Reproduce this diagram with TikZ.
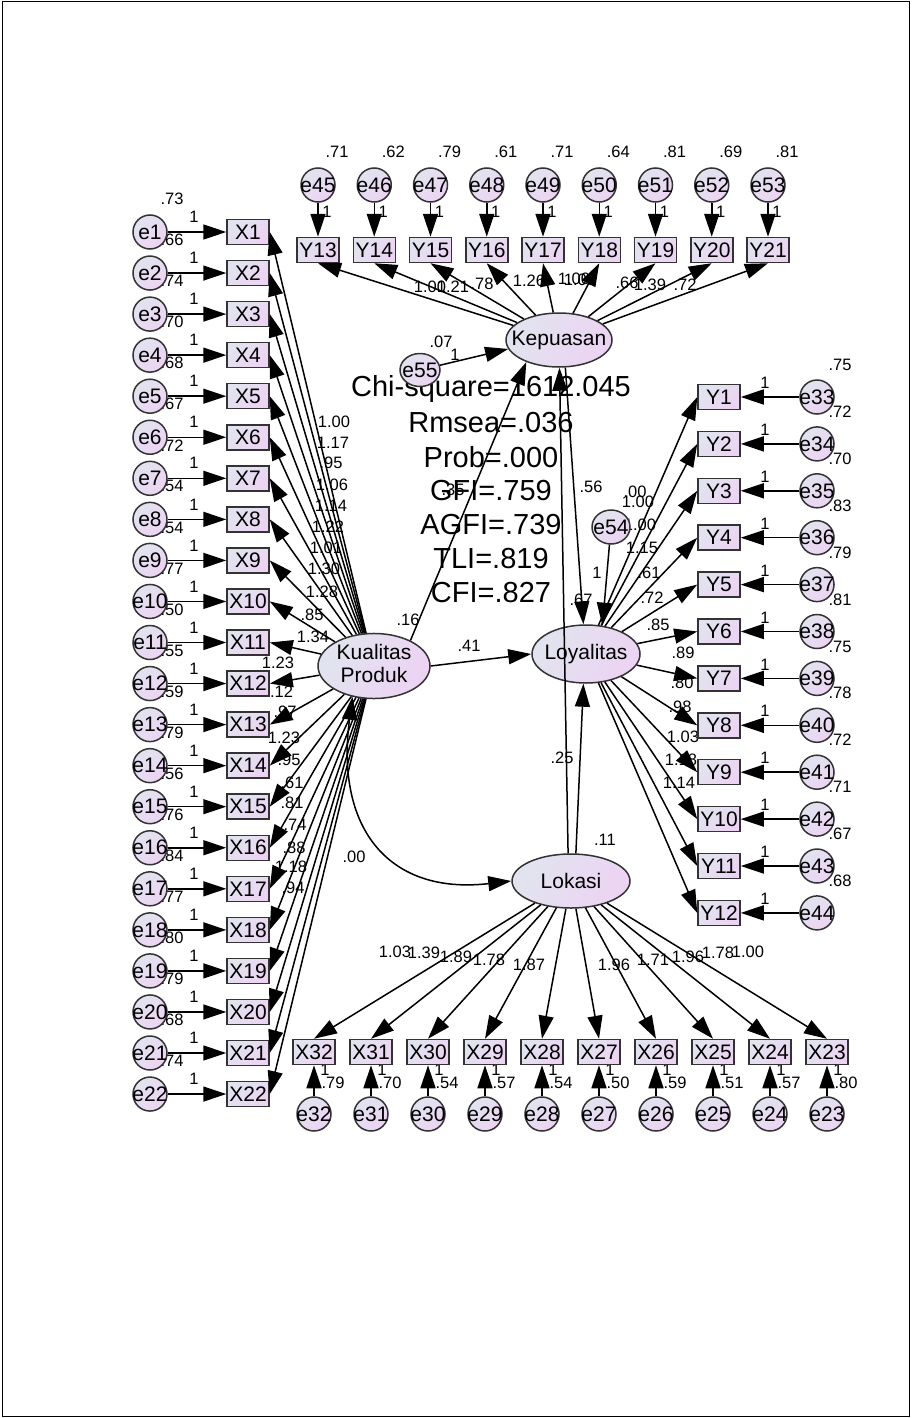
\documentclass[tikz,border=0pt]{standalone}
\usepackage{fontspec}
\setmainfont{Liberation Sans}
\usetikzlibrary{positioning, arrows.meta, shapes.geometric, backgrounds}

\definecolor{fillgray}{HTML}{E1E4EF}
\definecolor{fillpink}{HTML}{EDD3F3}
\newcommand{\ctext}[1]{\makebox[0pt]{#1}}

\begin{document}
\begin{tikzpicture}[
        x=1pt, y=-1pt,
        >={Triangle[length=23pt, width=15pt]},
        font=\fontsize{21}{23}\selectfont,
        obsbox/.style={rectangle, draw=black!80, line width=1.5pt, top color=fillgray, bottom color=fillpink, shading angle=45, minimum width=42pt, minimum height=25pt, inner sep=0pt},
        errcirc/.style={circle, draw=black!80, line width=1.5pt, top color=fillgray, bottom color=fillpink, shading angle=45, minimum size=34pt, inner sep=0pt},
        errell/.style={errcirc, ellipse, minimum width=40pt, minimum height=33pt},
        latent/.style={ellipse, draw=black!80, line width=1.5pt, top color=fillgray, bottom color=fillpink, shading angle=60, inner sep=0pt},
        arrow/.style={->, line width=1.5pt},
        coef/.style={font=\fontsize{16.5}{16.5}\selectfont, inner sep=0pt},
        fitstat/.style={font=\fontsize{29}{29}\selectfont, inner sep=0pt}
    ]
    \useasboundingbox (0,0) rectangle (911,1418);

    % Latent variables
    \node[latent, minimum width=106pt, minimum height=54pt] (kep) at (559,340) {\ctext{Kepuasan}};
    \node[latent, minimum width=108pt, minimum height=58pt] (lo) at (586,654) {\ctext{Loyalitas}};
    \node[latent, minimum width=118pt, minimum height=54pt] (lok) at (571,881) {\ctext{Lokasi}};
    \node[latent, minimum width=112pt, minimum height=60pt] (kp) at (374,666) {\ctext{\begin{tabular}{@{}c@{}}Kualitas\\Produk\end{tabular}}};

    \node[errell] (e55) at (420,370) {\ctext{e55}};
    \node[errell, minimum width=38pt, minimum height=34pt] (e54) at (611,527) {\ctext{e54}};

    % Kualitas Produk indicators
    \foreach \i [evaluate=\i as \yy using 232+(\i-1)*41.05] in {1,...,22} {
        \node[obsbox] (x\i) at (248,\yy) {X\i};
        \node[errcirc] (e\i) at (150,\yy) {\ctext{e\i}};
        \draw[arrow] (e\i) -- (x\i.west);
        \draw[arrow] (kp) -- (x\i.east);
    }

    % Loyalitas indicators
    \foreach \i [evaluate=\i as \yy using 397+(\i-1)*46.9, evaluate=\i as \ee using int(32+\i)] in {1,...,12} {
        \node[obsbox] (y\i) at (719,\yy) {Y\i};
        \node[errcirc] (e\ee) at (817,\yy) {\ctext{e\ee}};
        \draw[arrow] (e\ee) -- (y\i.east);
        \draw[arrow] (lo) -- (y\i.west);
    }

    % Kepuasan indicators
    \foreach \i [evaluate=\i as \xx using 318+(\i-13)*56.25, evaluate=\i as \ee using int(32+\i)] in {13,...,21} {
        \node[obsbox] (y\i) at (\xx,250) {Y\i};
        \node[errcirc] (e\ee) at (\xx,185) {\ctext{e\ee}};
        \draw[arrow] (e\ee) -- (y\i.north);
        \draw[arrow] (kep) -- (y\i.south);
    }

    % Lokasi indicators
    \foreach \i [evaluate=\i as \xx using 314+(32-\i)*57] in {23,...,32} {
        \node[obsbox] (x\i) at (\xx,1052) {X\i};
        \node[errcirc] (e\i) at (\xx,1114) {\ctext{e\i}};
        \draw[arrow] (e\i) -- (x\i.south);
        \draw[arrow] (lok) -- (x\i.north);
    }

    % Structural paths
    \draw[arrow] (kp.35) -- (kep.214);
    \draw[arrow] (kp.east) -- (lo.west);
    \draw[arrow] (e55) -- (kep.190);
    \draw[arrow] (e54) -- (lo.60);
    \draw[arrow] (kep.283) -- (lo.95);
    \draw[arrow] (lok.80) -- (lo.265);
    \draw[arrow] (lok.96) -- (kep.271);
    \draw[<->, line width=1.5pt] (kp.235) .. controls (335,830) and (390,895) .. (lok.west);

    \begin{scope}[on background layer]
        \draw[line width=1pt] (2,2) rectangle (909,1416);

        % Fit statistics
        \foreach \t [count=\n, evaluate=\n as \yy using 389+(\n-1)*34] in {Chi-square=1612.045, Rmsea=.036, Prob=.000, GFI=.759, AGFI=.739, TLI=.819, CFI=.827}
            \node[fitstat] (fit\n) at (491,\yy) {\t};

        % Variances and fixed weights
        \foreach \i/\v [evaluate=\i as \yy using 232+(\i-1)*41.05] in {1/.73, 2/.66, 3/.74, 4/.70, 5/.68, 6/.67, 7/.72, 8/.54, 9/.54, 10/.77, 11/.50, 12/.55, 13/.59, 14/.79, 15/.56, 16/.76, 17/.84, 18/.77, 19/.80, 20/.79, 21/.68, 22/.74} {
            \node[coef] (ve\i) at (172,\yy-33) {\v};
            \node[coef] (oe\i) at (194,\yy-15) {1};
        }
        \foreach \i/\v [evaluate=\i as \yy using 397+(\i-33)*46.9] in {33/.75, 34/.72, 35/.70, 36/.83, 37/.79, 38/.81, 39/.75, 40/.78, 41/.72, 42/.71, 43/.67, 44/.68} {
            \node[coef] (ve\i) at (840,\yy-32) {\v};
            \node[coef] (oe\i) at (765,\yy-14) {1};
        }
        \foreach \i/\v [evaluate=\i as \xx using 318+(\i-45)*56.25] in {45/.71, 46/.62, 47/.79, 48/.61, 49/.71, 50/.64, 51/.81, 52/.69, 53/.81} {
            \node[coef] (ve\i) at (\xx+19,152) {\v};
            \node[coef] (oe\i) at (\xx+9,212) {1};
        }
        \foreach \i/\v [evaluate=\i as \xx using 314+(32-\i)*57] in {23/.80, 24/.57, 25/.51, 26/.59, 27/.50, 28/.54, 29/.57, 30/.54, 31/.70, 32/.79} {
            \node[coef] (ve\i) at (\xx+19,1083) {\v};
            \node[coef] (oe\i) at (\xx+11,1070) {1};
        }

        % Loadings
        \foreach \v/\px/\py [count=\n] in {1.00/334/422, 1.17/333/443, .95/331/463, 1.06/332/485, 1.14/331/506, 1.22/328/527, 1.01/326/548, 1.30/324/569, 1.28/322/592, .85/312/615, 1.34/313/637, 1.23/278/663, 1.12/277/692, .97/285/712, 1.23/284/738, .95/289/760, .61/292/783, .81/292/803, .74/295/825, .88/294/848, 1.18/291/867, .94/293/888}
            \node[coef] (lkp\n) at (\px,\py) {\v};
        \foreach \v/\px/\py [count=\n] in {1.00/430/287, 1.21/453/287, .78/482/284, 1.26/529/281, 1.00/574/279, 1.08/580/280, .66/627/283, 1.39/650/285, .72/685/285}
            \node[coef] (lkep\n) at (\px,\py) {\v};
        \foreach \v/\px/\py [count=\n] in {1.00/638/502, 1.00/640/525, 1.15/642/548, .61/649/573, .72/652/598, .85/658/625, .89/683/653, .80/682/683, .98/680/707, 1.03/683/737, 1.18/681/760, 1.14/679/783}
            \node[coef] (llo\n) at (\px,\py) {\v};
        \foreach \v/\px/\py [count=\n] in {1.03/395/952, 1.39/424/953, 1.89/456/957, 1.78/489/960, 1.87/529/965, 1.96/614/965, 1.71/653/960, 1.96/688/957, 1.78/718/953, 1.00/748/952}
            \node[coef] (llok\n) at (\px,\py) {\v};

        % Structural estimates
        \node[coef] (v55) at (441,342) {.07};
        \node[coef] (o55) at (455,355) {1};
        \node[coef] (v54) at (635,492) {.00};
        \node[coef] (o54) at (597,573) {1};
        \node[coef] (vkp) at (408,620) {.16};
        \node[coef] (vlok) at (605,840) {.11};
        \node[coef] (bkpkep) at (453,490) {.35};
        \node[coef] (bkplo) at (469,646) {.41};
        \node[coef] (bkeplo) at (591,487) {.56};
        \node[coef] (bloklo) at (562,758) {.25};
        \node[coef] (blokkep) at (581,600) {.67};
        \node[coef] (ckplok) at (354,857) {.00};
    \end{scope}
\end{tikzpicture}
\end{document}
